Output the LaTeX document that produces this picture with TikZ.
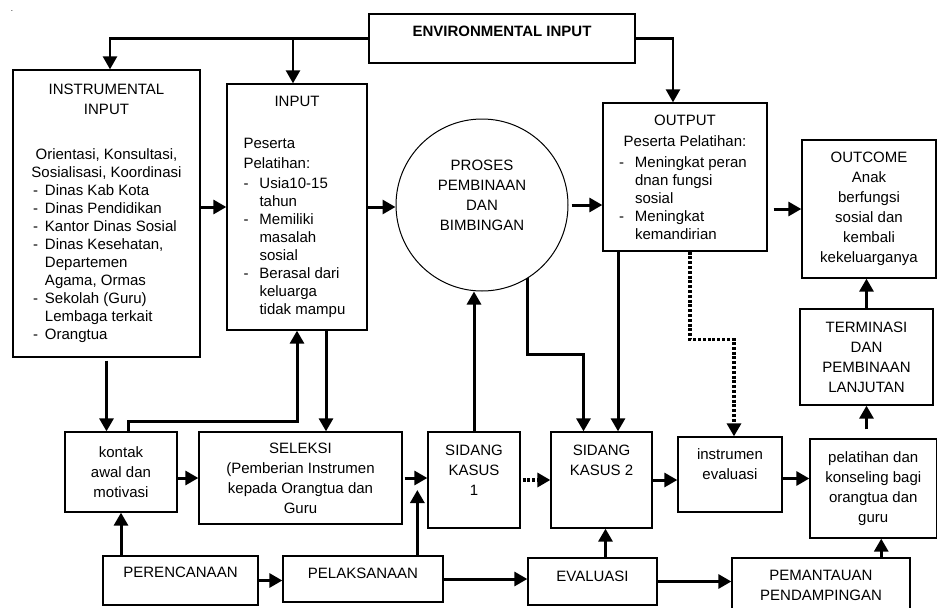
\documentclass[tikz,border=0pt]{standalone}
\usepackage{fontspec}
\setmainfont{Liberation Sans}
\usetikzlibrary{arrows.meta}

\newlength{\listw}
\newlength{\listi}
\newcommand{\itl}[1]{\makebox[\listw][l]{#1}}
\newcommand{\itm}[1]{\makebox[\listw][l]{\makebox[\listi][l]{-}#1}}
\newcommand{\itc}[1]{\makebox[\listw][l]{\hspace*{\listi}#1}}

\begin{document}
\begin{tikzpicture}[x=1pt,y=-1pt,>={Triangle[length=13pt,width=14pt]},
    box/.style={draw,line width=1.3pt,inner sep=0pt,align=center,font=\fontsize{15}{20}\selectfont},
    listbox/.style={box,font=\fontsize{15}{18}\selectfont},
    link/.style={->,line width=3pt},
    dotlink/.style={->,line width=3.2pt,dash pattern=on 3pt off 1.8pt}]
  \useasboundingbox (0,0) rectangle (938,608);
  \node[inner sep=0pt,font=\fontsize{8}{8}\selectfont](dot)at(12,11){.};
  % upper part
  \node[box,minimum width=266pt,minimum height=49pt](env)at(502,38.5){\textbf{ENVIRONMENTAL INPUT}\\[-5pt]\mbox{}};
  \node[listbox,minimum width=187pt,minimum height=287pt,
    execute at begin node={\setlength{\listw}{147pt}\setlength{\listi}{12pt}}](instr)at(106.5,213.5){INSTRUMENTAL\\[2pt]INPUT\\[27pt]Orientasi, Konsultasi,\\Sosialisasi, Koordinasi\\\itm{Dinas Kab Kota}\\\itm{Dinas Pendidikan}\\\itm{Kantor Dinas Sosial}\\\itm{Dinas Kesehatan,}\\\itc{Departemen}\\\itc{Agama, Ormas}\\\itm{Sekolah (Guru)}\\\itc{Lembaga terkait}\\\itm{Orangtua}};
  \node[listbox,minimum width=140pt,minimum height=246pt,
    execute at begin node={\setlength{\listw}{107pt}\setlength{\listi}{16pt}}](input)at(297,207){INPUT\\[24pt]\itl{Peserta}\\[2pt]\itl{Pelatihan:}\\[2pt]\itm{Usia10-15}\\\itc{tahun}\\\itm{Memiliki}\\\itc{masalah}\\\itc{sosial}\\\itm{Berasal dari}\\\itc{keluarga}\\\itc{tidak mampu}};
  \node[circle,draw,line width=1pt,minimum size=172pt,inner sep=0pt,align=center,font=\fontsize{15}{20}\selectfont](proses)at(482,205){PROSES\\PEMBINAAN\\DAN\\BIMBINGAN\\\mbox{}};
  \node[listbox,minimum width=164pt,minimum height=148pt,
    execute at begin node={\setlength{\listw}{132pt}\setlength{\listi}{16pt}}](output)at(685,177){OUTPUT\\[3pt]Peserta Pelatihan:\\[3pt]\itm{Meningkat peran}\\\itc{dnan fungsi}\\\itc{sosial}\\\itm{Meningkat}\\\itc{kemandirian}};
  \node[box,minimum width=134pt,minimum height=138pt](outcome)at(869,209){OUTCOME\\Anak\\berfungsi\\sosial dan\\kembali\\kekeluarganya};
  \node[box,minimum width=133pt,minimum height=96pt](term)at(866.5,357){TERMINASI\\DAN\\PEMBINAAN\\LANJUTAN};
  % lower part
  \node[box,minimum width=112pt,minimum height=80pt](kontak)at(121,472){kontak\\awal dan\\motivasi};
  \node[box,minimum width=203pt,minimum height=92pt](seleksi)at(300.5,478){SELEKSI\\(Pemberian Instrumen\\kepada Orangtua dan\\Guru};
  \node[box,minimum width=92pt,minimum height=96pt](sid1)at(474,480){SIDANG\\KASUS\\1\\\mbox{}};
  \node[box,minimum width=101pt,minimum height=96pt](sid2)at(601.5,480){SIDANG\\KASUS 2\\\mbox{}\\\mbox{}};
  \node[box,minimum width=104pt,minimum height=75pt](ievl)at(730,474.5){instrumen\\evaluasi\\\mbox{}};
  \node[box,minimum width=126.5pt,minimum height=99pt](pel)at(873.25,488.5){pelatihan dan\\konseling bagi\\orangtua dan\\guru};
  \node[box,minimum width=155pt,minimum height=49pt](perenc)at(180.5,580.5){PERENCANAAN\\[-4pt]\mbox{}};
  \node[box,minimum width=160pt,minimum height=46pt](pelak)at(363,579){PELAKSANAAN\\[-8pt]\mbox{}};
  \node[box,minimum width=129pt,minimum height=47pt](eval)at(592.5,581.5){EVALUASI\\[-9pt]\mbox{}};
  \node[box,minimum width=178pt,minimum height=54pt](pem)at(821,585){PEMANTAUAN\\PENDAMPINGAN};
  \coordinate(joint)at([xshift=-10pt,yshift=-10pt]sid1.west);
  % connectors
  \draw[link,line width=2.5pt](env.west)-|([xshift=3.5pt]instr.north);
  \draw[link,line width=2.5pt]([xshift=-4pt]input.north|-env.west)--([xshift=-4pt]input.north);
  \draw[link,line width=2.5pt](env.east)-|([xshift=-12pt]output.north);
  \draw[link](input.west-|instr.east)--(input.west);
  \draw[link](input.east)--(input.east-|proses.west);
  \draw[link]([xshift=3pt]proses.east)--(proses.east-|output.west);
  \draw[link]([xshift=6pt]output.east|-outcome.west)--(outcome.west);
  \draw[link](term.north)--(term.north|-outcome.south);
  \draw[link]([yshift=9pt]pel.north-|term.south)--(term.south);
  \draw[link]([yshift=-3pt]instr.south)--(instr.south|-kontak.north);
  \draw[link]([xshift=7pt]kontak.north)--++(0,-10)-|(input.south);
  \draw[link]([xshift=29pt]input.south)--([xshift=29pt]input.south|-seleksi.north);
  \draw[link](kontak.east|-seleksi.west)--(seleksi.west);
  \draw[link]([xshift=2pt]seleksi.east)--(seleksi.east-|sid1.west);
  \draw[link](pelak.north-|joint)--(joint);
  \draw[link](perenc.north-|kontak.south)--(kontak.south);
  \draw[link](perenc.east)--(perenc.east-|pelak.west);
  \draw[link](pelak.east)--(pelak.east-|eval.west);
  \draw[link](eval.east)--(eval.east-|pem.west);
  \draw[link]([xshift=13pt]eval.north)--([xshift=13pt]eval.north|-sid2.south);
  \draw[link]([xshift=8pt]pel.south|-pem.north)--([xshift=8pt]pel.south);
  \draw[link](sid1.north)--(sid1.north|-proses.south);
  \draw[link](proses.-58)--++(0,76)-|([xshift=-18pt]sid2.north);
  \draw[link]([xshift=-67pt]output.south)--([xshift=-67pt]output.south|-sid2.north);
  \draw[dotlink]([xshift=5pt]output.south)--++(0,88)-|([xshift=4pt]ievl.north);
  \draw[dotlink]([xshift=2pt]sid1.east)--(sid1.east-|sid2.west);
  \draw[link](sid2.east)--(sid2.east-|ievl.west);
  \draw[link]([yshift=-4pt]ievl.east)--([yshift=-4pt]ievl.east-|pel.west);
\end{tikzpicture}
\end{document}
